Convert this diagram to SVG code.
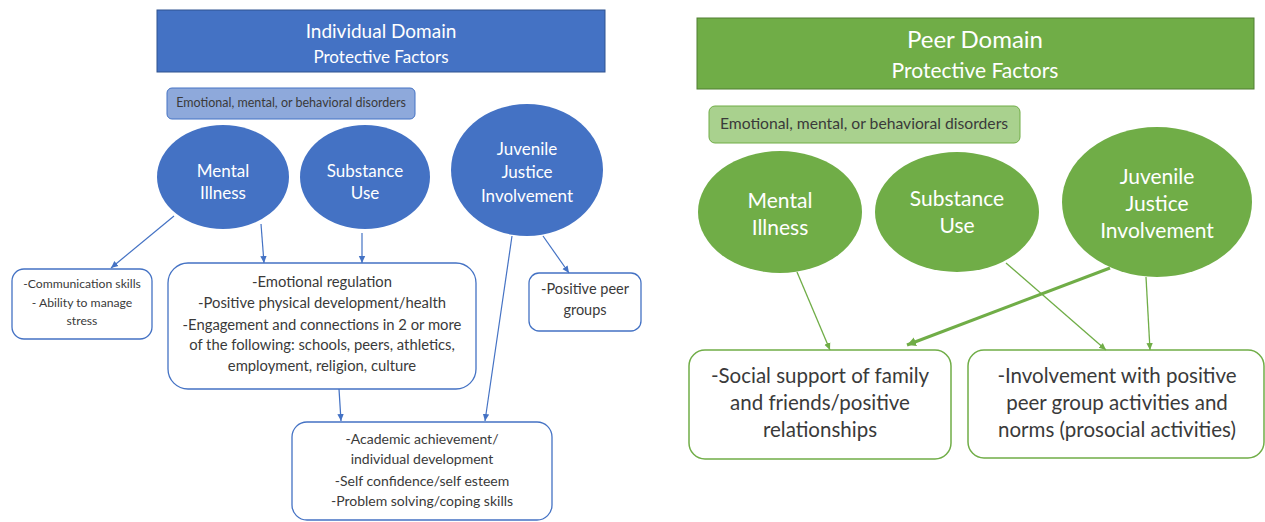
<svg xmlns="http://www.w3.org/2000/svg" width="1265" height="522" viewBox="0 0 1265 522">
  <defs>
    <style>
      text { font-family: Lato, "Liberation Sans", sans-serif; text-anchor: middle; }
      .hdr-b { fill: #4472C4; stroke: #2F528F; stroke-width: 1; }
      .hdr-g { fill: #70AD47; stroke: #507E32; stroke-width: 1; }
      .tag-b { fill: #8EA9DB; stroke: #4472C4; stroke-width: 1; }
      .tag-g { fill: #A9D18E; stroke: #70AD47; stroke-width: 1; }
      .oval-b { fill: #4472C4; }
      .oval-g { fill: #70AD47; }
      .box-b { fill: #ffffff; stroke: #4472C4; stroke-width: 1.3; }
      .box-g { fill: #ffffff; stroke: #70AD47; stroke-width: 1.5; }
      .white { fill: #ffffff; }
      .dark { fill: #3a3a3a; }
      .line-b { stroke: #4472C4; stroke-width: 1.2; fill: none; marker-end: url(#head-b); }
      .line-g { stroke: #70AD47; stroke-width: 1.3; fill: none; marker-end: url(#head-g); }
      .line-g-bold { stroke: #70AD47; stroke-width: 3; fill: none; marker-end: url(#head-g-big); }
    </style>
    <marker id="head-b" markerUnits="userSpaceOnUse" markerWidth="9" markerHeight="8" refX="7" refY="4" orient="auto">
      <path d="M0,0.8 L7,4 L0,7.2 z" fill="#4472C4"/>
    </marker>
    <marker id="head-g" markerUnits="userSpaceOnUse" markerWidth="9" markerHeight="8" refX="7" refY="4" orient="auto">
      <path d="M0,0.8 L7,4 L0,7.2 z" fill="#70AD47"/>
    </marker>
    <marker id="head-g-big" markerUnits="userSpaceOnUse" markerWidth="12" markerHeight="10" refX="9" refY="5" orient="auto">
      <path d="M0,0.5 L9,5 L0,9.5 z" fill="#70AD47"/>
    </marker>
  </defs>

  <rect width="1265" height="522" fill="#ffffff"/>

  <!-- Individual domain (left panel) -->
  <g id="ind-header">
    <rect class="hdr-b" x="157" y="10" width="448" height="62"/>
    <text class="white" x="381" y="38" font-size="19">Individual Domain</text>
    <text class="white" x="381" y="63" font-size="17">Protective Factors</text>
  </g>
  <g id="ind-tag">
    <rect class="tag-b" x="167" y="88" width="248" height="31" rx="5"/>
    <text class="dark" x="291" y="107" font-size="12.5">Emotional, mental, or behavioral disorders</text>
  </g>
  <g id="ind-mental">
    <ellipse class="oval-b" cx="223" cy="177" rx="66" ry="52"/>
    <text class="white" x="223" y="177" font-size="17">Mental</text>
    <text class="white" x="223" y="199" font-size="17">Illness</text>
  </g>
  <g id="ind-substance">
    <ellipse class="oval-b" cx="365" cy="177" rx="65" ry="52"/>
    <text class="white" x="365" y="177" font-size="17">Substance</text>
    <text class="white" x="365" y="199" font-size="17">Use</text>
  </g>
  <g id="ind-justice">
    <ellipse class="oval-b" cx="527" cy="170" rx="76" ry="66"/>
    <text class="white" x="527" y="155" font-size="17">Juvenile</text>
    <text class="white" x="527" y="178" font-size="17">Justice</text>
    <text class="white" x="527" y="202" font-size="17">Involvement</text>
  </g>
  <g id="ind-communication">
    <rect class="box-b" x="12" y="269" width="140" height="70" rx="12"/>
    <text class="dark" x="82" y="288" font-size="12.2">-Communication skills</text>
    <text class="dark" x="82" y="307" font-size="12.2">- Ability to manage</text>
    <text class="dark" x="82" y="325" font-size="12.2">stress</text>
  </g>
  <g id="ind-regulation">
    <rect class="box-b" x="168" y="263" width="308" height="126" rx="20"/>
    <text class="dark" x="322" y="287" font-size="14.8">-Emotional regulation</text>
    <text class="dark" x="322" y="308" font-size="14.8">-Positive physical development/health</text>
    <text class="dark" x="322" y="330" font-size="14.8">-Engagement and connections in 2 or more</text>
    <text class="dark" x="322" y="350" font-size="14.8">of the following: schools, peers, athletics,</text>
    <text class="dark" x="322" y="371" font-size="14.8">employment, religion, culture</text>
  </g>
  <g id="ind-peer">
    <rect class="box-b" x="529" y="273" width="112" height="58" rx="10"/>
    <text class="dark" x="585" y="294" font-size="14.5">-Positive peer</text>
    <text class="dark" x="585" y="315" font-size="14.5">groups</text>
  </g>
  <g id="ind-achievement">
    <rect class="box-b" x="292" y="422" width="260" height="98" rx="15"/>
    <text class="dark" x="422" y="444" font-size="14">-Academic achievement/</text>
    <text class="dark" x="422" y="464" font-size="14">individual development</text>
    <text class="dark" x="422" y="486" font-size="14">-Self confidence/self esteem</text>
    <text class="dark" x="422" y="506" font-size="14">-Problem solving/coping skills</text>
  </g>

  <!-- Peer domain (right panel) -->
  <g id="peer-header">
    <rect class="hdr-g" x="697" y="18" width="557" height="71"/>
    <text class="white" x="975" y="48" font-size="24">Peer Domain</text>
    <text class="white" x="975" y="78" font-size="21">Protective Factors</text>
  </g>
  <g id="peer-tag">
    <rect class="tag-g" x="709" y="106" width="311" height="37" rx="6"/>
    <text class="dark" x="864" y="129" font-size="15.7">Emotional, mental, or behavioral disorders</text>
  </g>
  <g id="peer-mental">
    <ellipse class="oval-g" cx="780" cy="212" rx="82" ry="61"/>
    <text class="white" x="780" y="208" font-size="21">Mental</text>
    <text class="white" x="780" y="235" font-size="21">Illness</text>
  </g>
  <g id="peer-substance">
    <ellipse class="oval-g" cx="957" cy="212" rx="82" ry="60"/>
    <text class="white" x="957" y="206" font-size="21">Substance</text>
    <text class="white" x="957" y="233" font-size="21">Use</text>
  </g>
  <g id="peer-justice">
    <ellipse class="oval-g" cx="1157" cy="202" rx="95" ry="75"/>
    <text class="white" x="1157" y="184" font-size="21">Juvenile</text>
    <text class="white" x="1157" y="211" font-size="21">Justice</text>
    <text class="white" x="1157" y="238" font-size="21">Involvement</text>
  </g>
  <g id="peer-support">
    <rect class="box-g" x="689" y="350" width="262" height="109" rx="16"/>
    <text class="dark" x="820" y="383" font-size="20.5">-Social support of family</text>
    <text class="dark" x="820" y="410" font-size="20.5">and friends/positive</text>
    <text class="dark" x="820" y="437" font-size="20.5">relationships</text>
  </g>
  <g id="peer-involvement">
    <rect class="box-g" x="968" y="350" width="296" height="108" rx="16"/>
    <text class="dark" x="1117" y="383" font-size="20.5">-Involvement with positive</text>
    <text class="dark" x="1117" y="410" font-size="20.5">peer group activities and</text>
    <text class="dark" x="1117" y="437" font-size="20.5">norms (prosocial activities)</text>
  </g>

  <!-- Connectors -->
  <g id="connectors">
    <line class="line-b" x1="174" y1="216" x2="111" y2="268"/>
    <line class="line-b" x1="261" y1="224" x2="264" y2="263"/>
    <line class="line-b" x1="362" y1="233" x2="362" y2="263"/>
    <line class="line-b" x1="512" y1="236" x2="485" y2="421"/>
    <line class="line-b" x1="543" y1="236" x2="569" y2="273"/>
    <line class="line-b" x1="339" y1="389" x2="341" y2="421"/>

    <line class="line-g" x1="797" y1="272" x2="830" y2="350"/>
    <line class="line-g-bold" x1="1110" y1="268" x2="907" y2="345"/>
    <line class="line-g" x1="1006" y1="263" x2="1106" y2="350"/>
    <line class="line-g" x1="1146" y1="277" x2="1150" y2="350"/>
  </g>
</svg>
